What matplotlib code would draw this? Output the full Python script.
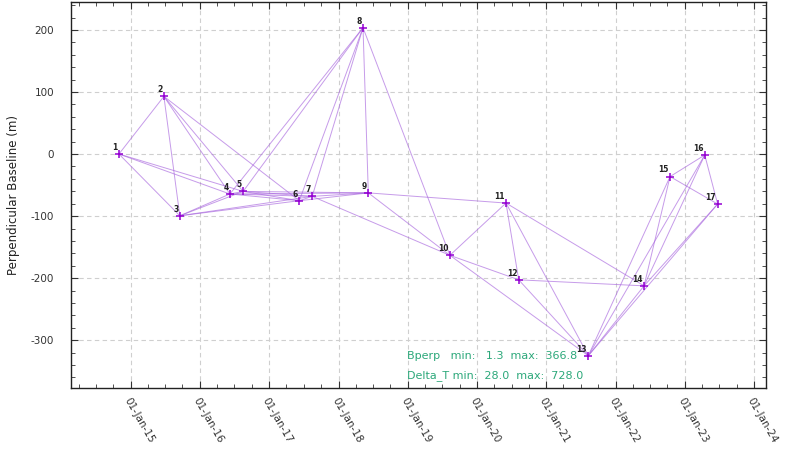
import datetime as dt

import matplotlib
matplotlib.use("Agg")
import matplotlib.dates as mdates
import matplotlib.pyplot as plt
from matplotlib.ticker import MultipleLocator

plt.rcParams["axes.unicode_minus"] = False

# acquisition dates and perpendicular baselines (m)
dates = ["2014-10-31", "2015-06-25", "2015-09-17", "2016-06-07", "2016-08-16",
         "2017-06-08", "2017-08-15", "2018-05-10", "2018-06-07", "2019-08-11",
         "2020-06-02", "2020-08-08", "2021-08-10", "2022-05-31", "2022-10-15",
         "2023-04-16", "2023-06-23"]
bperp = [0.0, 92.9, -99.5, -64.4, -60.2, -75.2, -68.2, 203.6, -62.6, -163.2,
         -79.0, -202.7, -325.0, -212.4, -36.3, -1.6, -80.6]

# interferometric pairs (1-based image numbers)
pairs = [(1, 2), (1, 3), (1, 4), (1, 5),
         (2, 3), (2, 4), (2, 5), (2, 6),
         (3, 4), (3, 5), (3, 6), (3, 7),
         (4, 5), (4, 6), (4, 7), (4, 8), (4, 9),
         (5, 6), (5, 7), (5, 8), (5, 9),
         (6, 7), (6, 8), (6, 9),
         (7, 8), (7, 9), (7, 10),
         (8, 9), (8, 10),
         (9, 10), (9, 11),
         (10, 11), (10, 12), (10, 13),
         (11, 12), (11, 13), (11, 14),
         (12, 13), (12, 14),
         (13, 14), (13, 15), (13, 16), (13, 17),
         (14, 15), (14, 16), (14, 17),
         (15, 16), (15, 17),
         (16, 17)]

bperp_stats = (1.3, 366.8)
dt_stats = (28.0, 728.0)

t = [dt.datetime.strptime(d, "%Y-%m-%d") for d in dates]

fig = plt.figure(figsize=(7.85, 4.54), dpi=100)
ax = fig.add_axes([0.0904, 0.1454, 0.8854, 0.8502])

for a, b in pairs:
    ax.plot([t[a - 1], t[b - 1]], [bperp[a - 1], bperp[b - 1]],
            color="#a866de", lw=0.7, alpha=0.65, zorder=2)

ax.plot(t, bperp, linestyle="none", marker="+", ms=6, mew=1.1,
        color="#9400d3", zorder=3)

for i, (x, y) in enumerate(zip(t, bperp)):
    ax.annotate(str(i + 1), (x, y), xytext=(-1, 1.5), textcoords="offset points",
                ha="right", va="bottom", fontsize=5.5, fontweight="bold",
                color="#222222", zorder=4)

ax.set_xlim(dt.datetime(2014, 2, 20), dt.datetime(2024, 3, 4))
ax.set_ylim(-377, 245)

ax.xaxis.set_major_locator(mdates.YearLocator())
ax.xaxis.set_minor_locator(mdates.MonthLocator(bymonth=[4, 7, 10]))
ax.xaxis.set_major_formatter(mdates.DateFormatter("%d-%b-%y"))
ax.yaxis.set_major_locator(MultipleLocator(100))
ax.yaxis.set_minor_locator(MultipleLocator(20))

ax.tick_params(which="both", direction="in", top=True, right=True,
               labelsize=7.5, colors="#333333")
ax.tick_params(which="major", length=5, width=0.8)
ax.tick_params(which="minor", length=3, width=0.6)
ax.tick_params(axis="y", which="major", pad=12)
ax.tick_params(axis="x", which="major", pad=6)
for lab in ax.get_xticklabels():
    lab.set_rotation(-60)
    lab.set_ha("left")
    lab.set_va("top")
    lab.set_rotation_mode("anchor")

ax.grid(which="major", color="#cfcfcf", linestyle=(0, (4, 3)), lw=0.8)
for s in ax.spines.values():
    s.set_linewidth(1.0)
    s.set_color("#222222")

ax.set_ylabel("Perpendicular Baseline (m)", fontsize=8.5, color="#222222", labelpad=8)

green = "#2ca87a"
ax.text(0.4835, 0.083, "Bperp   min:   %.1f  max:  %.1f" % bperp_stats,
        transform=ax.transAxes, color=green, fontsize=8, va="center")
ax.text(0.4835, 0.031, "Delta_T min:  %.1f  max:  %.1f" % dt_stats,
        transform=ax.transAxes, color=green, fontsize=8, va="center")

fig.savefig("out.png", dpi=100)
